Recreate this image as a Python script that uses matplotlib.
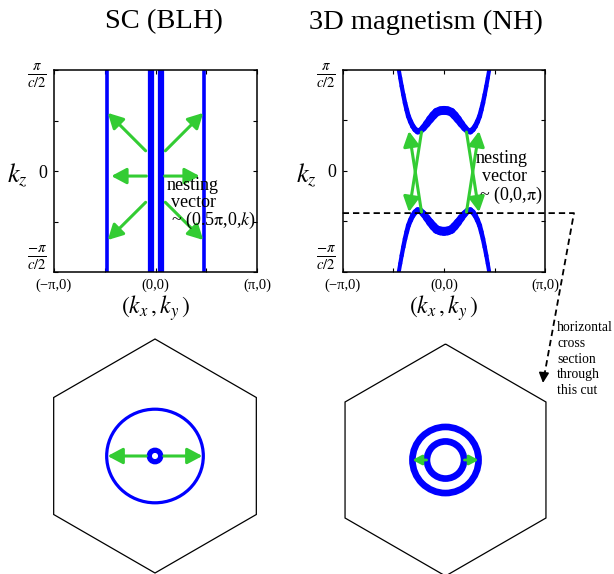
import matplotlib
matplotlib.use('Agg')
import matplotlib.pyplot as plt
import numpy as np
from matplotlib.patches import RegularPolygon, Ellipse, Circle
from matplotlib.collections import LineCollection

plt.rcParams['font.family'] = ['Liberation Serif', 'DejaVu Serif']
plt.rcParams['mathtext.fontset'] = 'stix'

# ---- data (kx in units of pi, kz in units of pi/(c/2)) ----
# SC (BLH): straight Fermi sheets
sc_sheet_x = [-0.475, -0.046, 0.052, 0.475]
sc_sheet_thick = [False, True, True, False]
# nesting arrows (tail -> head)
sc_tail_x = [-0.097, -0.09, -0.097, 0.097, 0.09, 0.097]
sc_tail_y = [0.20, -0.05, -0.31, 0.20, -0.05, -0.31]
sc_head_x = [-0.47, -0.435, -0.47, 0.47, 0.435, 0.47]
sc_head_y = [0.575, -0.05, -0.683, 0.575, -0.05, -0.683]

# NH: left half of upper warped sheet
nh_half_x = [-0.446, -0.432, -0.418, -0.402, -0.385, -0.368, -0.352, -0.331, -0.309,
             -0.285, -0.260, -0.232, -0.204, -0.171, -0.138, -0.105, -0.072, -0.036, 0.0]
nh_half_y = [1.00, 0.92, 0.84, 0.757, 0.675, 0.605, 0.543, 0.49, 0.444,
             0.41, 0.39, 0.398, 0.425, 0.466, 0.510, 0.550, 0.583, 0.596, 0.600]
nh_tail_x = [-0.222, -0.222, 0.222, 0.222]
nh_tail_y = [-0.408, 0.385, -0.408, 0.385]
nh_head_x = [-0.346, -0.346, 0.346, 0.346]
nh_head_y = [0.394, -0.408, 0.394, -0.408]
cut_kz = -0.419

# horizontal cross sections (hexagon radius = 1)
blh_outer = (0.826, 0.80)   # ellipse width, height
blh_inner_r = 0.049
blh_arrow_tail = 0.075
blh_arrow_head = 0.405
nh_rings = [0.285, 0.16]
nh_arrow_tail = 0.163
nh_arrow_head = 0.285

blue = '#0000ff'
green = '#33cc33'

W, H = 614, 574
fig = plt.figure(figsize=(W / 100, H / 100), dpi=100)


def px_axes(l, t, r, b):
    return fig.add_axes([l / W, 1 - b / H, (r - l) / W, (b - t) / H])


def green_arrow(ax, x0, y0, x1, y1, ms=15, lw=2.2):
    ax.annotate('', xy=(x1, y1), xytext=(x0, y0),
                arrowprops=dict(arrowstyle='-|>,head_length=0.6,head_width=0.32',
                                color=green, lw=lw, shrinkA=0, shrinkB=0,
                                mutation_scale=ms))


def style_top(ax):
    ax.set_xlim(-1, 1)
    ax.set_ylim(-1, 1)
    ax.set_xticks([-1, 0, 1])
    ax.set_xticklabels(['(\u2212\u03c0,0)', '(0,0)', '(\u03c0,0)'], fontsize=10.5)
    ax.set_xticks([-0.5, 0.5], minor=True)
    ax.set_yticks([-1, 0, 1])
    ax.set_yticklabels([r'$\frac{-\pi}{c/2}$', '0', r'$\frac{\pi}{c/2}$'], fontsize=15)
    ax.get_yticklabels()[0].set_va('bottom')
    ax.get_yticklabels()[1].set_fontsize(13)
    ax.set_yticks([-0.5, 0.5], minor=True)
    ax.tick_params(which='both', direction='in', top=True, right=True,
                   length=3, width=0.8, pad=5)
    for s in ax.spines.values():
        s.set_linewidth(1.1)
    ax.text(-0.18, 0.48, r'$k_z$', transform=ax.transAxes, fontsize=19,
            ha='center', va='center')
    ax.text(0.5, -0.18, r'$(k_x\,,k_y\,)$', transform=ax.transAxes, fontsize=17,
            ha='center', va='center')


# ---- top left: SC (BLH) ----
ax1 = px_axes(54, 70, 257, 272)
style_top(ax1)
for x, thick in zip(sc_sheet_x, sc_sheet_thick):
    ax1.axvline(x, color=blue, lw=4.5 if thick else 2.6)
for i in range(len(sc_tail_x)):
    green_arrow(ax1, sc_tail_x[i], sc_tail_y[i], sc_head_x[i], sc_head_y[i])
ax1.text(0.365, -0.139, 'nesting', fontsize=13, ha='center', va='center')
ax1.text(0.377, -0.307, 'vector', fontsize=13, ha='center', va='center')
ax1.text(0.567, -0.485, r'~ (0.5$\mathrm{\pi}$,0,$k$)', fontsize=13,
         ha='center', va='center')

# ---- top right: 3D magnetism (NH) ----
ax2 = px_axes(342.7, 70, 545.3, 271.7)
style_top(ax2)
hx = np.array(nh_half_x)
hy = np.array(nh_half_y)
cx = np.concatenate([hx, -hx[::-1][1:]])
cy = np.concatenate([hy, hy[::-1][1:]])
mid = np.abs((cx[1:] + cx[:-1]) / 2)
widths = np.interp(mid, [0.0, 0.12, 0.26, 0.45], [6.5, 5.8, 4.2, 2.8])
for sgn in (1, -1):
    pts = np.column_stack([cx, sgn * cy])
    segs = np.stack([pts[:-1], pts[1:]], axis=1)
    lc = LineCollection(segs, colors=blue, linewidths=widths, capstyle='round')
    ax2.add_collection(lc)
for i in range(len(nh_tail_x)):
    green_arrow(ax2, nh_tail_x[i], nh_tail_y[i], nh_head_x[i], nh_head_y[i])
ax2.text(0.573, 0.127, 'nesting', fontsize=13, ha='center', va='center')
ax2.text(0.597, -0.058, 'vector', fontsize=13, ha='center', va='center')
ax2.text(0.656, -0.24, r'~ (0,0,$\mathrm{\pi}$)', fontsize=13, ha='center', va='center')

# dashed cut and pointer to cross section
ax2.plot([-1, 1.283, 0.99], [cut_kz, cut_kz, -2.03], color='k', lw=1.3,
         dashes=(3.5, 2.2), clip_on=False)
ax2.annotate('', xy=(0.977, -2.103), xytext=(0.987, -2.0),
             arrowprops=dict(arrowstyle='-|>,head_length=0.6,head_width=0.3',
                             color='k', lw=1.2, mutation_scale=10,
                             shrinkA=0, shrinkB=0),
             annotation_clip=False)

# ---- bottom left: BLH cross section ----
ax3 = px_axes(35, 336, 275, 576)
ax3.set_xlim(-120 / 117, 120 / 117)
ax3.set_ylim(-120 / 117, 120 / 117)
ax3.axis('off')
ax3.add_patch(RegularPolygon((0, 0), 6, radius=1, orientation=0,
                             fill=False, ec='k', lw=0.9))
ax3.add_patch(Ellipse((0, 0), blh_outer[0], blh_outer[1], fill=False,
                      ec=blue, lw=2.3))
ax3.add_patch(Circle((0, 0), blh_inner_r, fill=False, ec=blue, lw=3.8))
green_arrow(ax3, -blh_arrow_tail, 0, -blh_arrow_head, 0)
green_arrow(ax3, blh_arrow_tail, 0, blh_arrow_head, 0)

# ---- bottom right: NH cross section ----
ax4 = px_axes(325.5, 340, 565.5, 580)
ax4.set_xlim(-120 / 116, 120 / 116)
ax4.set_ylim(-120 / 116, 120 / 116)
ax4.axis('off')
ax4.add_patch(RegularPolygon((0, 0), 6, radius=1, orientation=0,
                             fill=False, ec='k', lw=0.9))
for r in nh_rings:
    ax4.add_patch(Circle((0, 0), r, fill=False, ec=blue, lw=4.8))
green_arrow(ax4, -nh_arrow_tail, 0, -nh_arrow_head, 0, ms=9, lw=2.0)
green_arrow(ax4, nh_arrow_tail, 0, nh_arrow_head, 0, ms=9, lw=2.0)

# ---- titles and note ----
fig.text(163.7 / W, 1 - 22 / H, 'SC (BLH)', fontsize=20.5, ha='center', va='center')
fig.text(426 / W, 1 - 22 / H, '3D magnetism (NH)', fontsize=20.5, ha='center', va='center')
fig.text(557 / W, 1 - 321 / H, 'horizontal\ncross\nsection\nthrough\nthis cut',
         fontsize=9.8, ha='left', va='top', linespacing=1.28)

fig.savefig('out.png', dpi=100)
